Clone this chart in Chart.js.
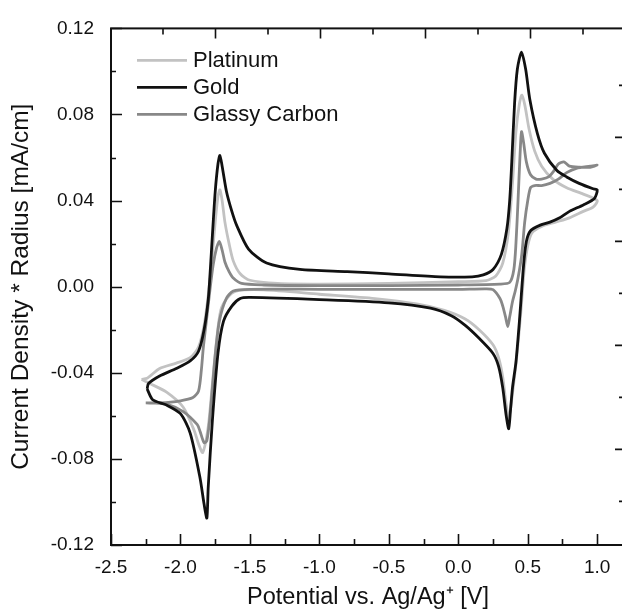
<!DOCTYPE html>
<html>
<head>
<meta charset="utf-8">
<script src="https://cdn.jsdelivr.net/npm/chart.js@4.4.1/dist/chart.umd.min.js"></script>
<style>
  html, body { margin: 0; padding: 0; background: #fff; overflow: hidden; }
</style>
</head>
<body>
<canvas id="cvChart" width="630" height="612"></canvas>
<script>
// potential (V) and current density * radius (mA/cm), one closed sweep per electrode
const platinumV = [-2.28, -2.24, -2.15, -2.03, -1.93, -1.87, -1.83, -1.80, -1.775, -1.75, -1.73, -1.716, -1.70, -1.68, -1.65, -1.62, -1.57, -1.5, -1.3, -1.0, -0.5, 0.0, 0.2, 0.27, 0.32, 0.36, 0.39, 0.415, 0.44, 0.458, 0.48, 0.51, 0.55, 0.6, 0.68, 0.78, 0.9, 1.0,
  0.97, 0.9, 0.8, 0.7, 0.6, 0.53, 0.5, 0.475, 0.45, 0.42, 0.395, 0.375, 0.362, 0.345, 0.32, 0.29, 0.25, 0.15, 0.05, -0.1, -0.3, -0.6, -1.0, -1.4, -1.6, -1.66, -1.71, -1.74, -1.77, -1.80, -1.84, -1.87, -1.9, -1.98, -2.1, -2.22, -2.28];
const platinumI = [-0.043, -0.0425, -0.038, -0.0355, -0.033, -0.028, -0.018, -0.004, 0.012, 0.030, 0.042, 0.045, 0.040, 0.030, 0.020, 0.012, 0.006, 0.003, 0.0015, 0.0012, 0.0015, 0.0023, 0.0028, 0.005, 0.011, 0.025, 0.048, 0.072, 0.085, 0.089, 0.084, 0.073, 0.063, 0.056, 0.050, 0.046, 0.043, 0.040,
  0.037, 0.035, 0.032, 0.030, 0.028, 0.025, 0.019, 0.008, -0.012, -0.033, -0.047, -0.057, -0.061, -0.055, -0.042, -0.033, -0.027, -0.020, -0.015, -0.011, -0.008, -0.0055, -0.0035, -0.0015, -0.002, -0.005, -0.011, -0.025, -0.045, -0.065, -0.077, -0.073, -0.067, -0.056, -0.049, -0.045, -0.043];

const goldV = [-2.24, -2.23, -2.15, -2.03, -1.93, -1.87, -1.83, -1.80, -1.785, -1.77, -1.75, -1.73, -1.716, -1.70, -1.668, -1.63, -1.596, -1.51, -1.38, -1.14, -0.8, -0.5, -0.13, 0.1, 0.18, 0.25, 0.31, 0.35, 0.37, 0.385, 0.405, 0.425, 0.455, 0.485, 0.515, 0.57, 0.62, 0.71, 0.78, 0.87, 0.97, 1.0,
  0.98, 0.9, 0.8, 0.73, 0.66, 0.59, 0.52, 0.49, 0.47, 0.44, 0.415, 0.39, 0.375, 0.363, 0.345, 0.32, 0.29, 0.25, 0.15, 0.05, -0.05, -0.2, -0.5, -1.0, -1.5, -1.57, -1.63, -1.69, -1.73, -1.77, -1.80, -1.81, -1.83, -1.86, -1.93, -2.0, -2.1, -2.2, -2.24];
const goldI = [-0.0475, -0.045, -0.0415, -0.038, -0.0345, -0.030, -0.020, -0.006, 0.008, 0.024, 0.044, 0.057, 0.061, 0.056, 0.044, 0.035, 0.0286, 0.0175, 0.011, 0.008, 0.007, 0.006, 0.0046, 0.0046, 0.0055, 0.008, 0.015, 0.027, 0.040, 0.058, 0.085, 0.101, 0.109, 0.101, 0.087, 0.071, 0.062, 0.054, 0.051, 0.048, 0.0455, 0.045,
  0.041, 0.038, 0.035, 0.032, 0.030, 0.0286, 0.026, 0.021, 0.010, -0.016, -0.035, -0.047, -0.058, -0.066, -0.060, -0.047, -0.037, -0.031, -0.024, -0.018, -0.0135, -0.010, -0.0075, -0.006, -0.005, -0.0055, -0.009, -0.016, -0.031, -0.062, -0.093, -0.1075, -0.101, -0.0885, -0.068, -0.059, -0.055, -0.0525, -0.0475];

const glassyV = [-2.25, -2.15, -2.0, -1.91, -1.87, -1.85, -1.835, -1.81, -1.785, -1.765, -1.74, -1.72, -1.70, -1.68, -1.65, -1.62, -1.56, -1.4, -1.0, -0.5, 0.0, 0.3, 0.37, 0.40, 0.415, 0.43, 0.445, 0.455, 0.47, 0.49, 0.52, 0.56, 0.6, 0.65, 0.69, 0.72, 0.76, 0.8, 0.87, 0.95, 1.0,
  0.95, 0.85, 0.78, 0.72, 0.66, 0.6, 0.55, 0.52, 0.50, 0.478, 0.457, 0.43, 0.41, 0.39, 0.37, 0.356, 0.34, 0.32, 0.30, 0.25, 0.2, 0.0, -0.5, -1.0, -1.5, -1.62, -1.67, -1.72, -1.75, -1.77, -1.79, -1.81, -1.83, -1.86, -1.88, -1.98, -2.1, -2.2, -2.25];
const glassyI = [-0.054, -0.054, -0.053, -0.0515, -0.0485, -0.039, -0.028, -0.014, 0.0, 0.010, 0.018, 0.021, 0.017, 0.0115, 0.007, 0.004, 0.0015, 0.0008, 0.0005, 0.0005, 0.0008, 0.0012, 0.002, 0.008, 0.020, 0.040, 0.062, 0.072, 0.067, 0.058, 0.052, 0.050, 0.050, 0.051, 0.054, 0.057, 0.058, 0.056, 0.0555, 0.0555, 0.0565,
  0.056, 0.055, 0.053, 0.050, 0.048, 0.047, 0.047, 0.046, 0.040, 0.030, 0.015, 0.004, -0.002, -0.007, -0.014, -0.0185, -0.014, -0.009, -0.0055, -0.0014, -0.001, -0.0012, -0.0012, -0.0012, -0.0012, -0.002, -0.0055, -0.016, -0.032, -0.047, -0.062, -0.0715, -0.0725, -0.067, -0.064, -0.058, -0.0545, -0.054, -0.054];

const seriesNames = ['Platinum', 'Gold', 'Glassy Carbon'];
const xTicks = [-2.5, -2.0, -1.5, -1.0, -0.5, 0.0, 0.5, 1.0];
const yTicks = [-0.12, -0.08, -0.04, 0.00, 0.04, 0.08, 0.12];

const colors = ['#c2c2c2', '#111111', '#888888'];
const FONT = "'Liberation Sans', Arial, sans-serif";

function pts(vs, is) {
  return vs.map((v, i) => ({ x: v, y: is[i] }));
}

// frame, inward ticks and legend
const framePlugin = {
  id: 'framePlugin',
  afterDatasetsDraw(chart) {
    const { ctx, chartArea: a, scales } = chart;
    const xs = scales.x, ys = scales.y;
    ctx.save();
    ctx.strokeStyle = '#111';
    ctx.lineWidth = 2;
    ctx.strokeRect(a.left, a.top, a.right - a.left, a.bottom - a.top);
    ctx.lineWidth = 1.6;
    ctx.beginPath();
    for (let v = -2.5; v <= 1.21; v += 0.25) {
      const px = Math.round(xs.getPixelForValue(v)) + 0.5;
      const len = Math.abs(v * 2 - Math.round(v * 2)) < 0.01 ? 11 : 6;
      ctx.moveTo(px, a.bottom); ctx.lineTo(px, a.bottom - len);
    }
    for (let v = -0.12; v <= 0.121; v += 0.02) {
      const py = Math.round(ys.getPixelForValue(v)) + 0.5;
      const k = Math.round(v / 0.02);
      const len = k % 2 === 0 ? 11 : 5;
      ctx.moveTo(a.left, py); ctx.lineTo(a.left + len, py);
    }
    // top / right ticks of the overlay frame
    for (let i = 0; i < 10; i++) {
      const px = a.left + 52 + i * 52.5;
      const len = i % 2 === 1 ? 10 : 6;
      ctx.moveTo(px, a.top); ctx.lineTo(px, a.top + len);
    }
    for (let i = 0; i < 10; i++) {
      const py = a.top + 57 + i * 52;
      if (py > a.bottom - 5) break;
      const len = i % 2 === 1 ? 10 : 6;
      ctx.moveTo(a.right, py); ctx.lineTo(a.right - len, py);
    }
    ctx.stroke();

    // legend
    ctx.font = '22px ' + FONT;
    ctx.textBaseline = 'middle';
    ctx.textAlign = 'left';
    chart.data.datasets.forEach((ds, i) => {
      const y = a.top + 32 + i * 27;
      ctx.strokeStyle = ds.borderColor;
      ctx.lineWidth = 2.8;
      ctx.beginPath();
      ctx.moveTo(a.left + 26, y); ctx.lineTo(a.left + 76, y);
      ctx.stroke();
      ctx.fillStyle = '#111';
      ctx.fillText(ds.label, a.left + 82, y + 1);
    });
    ctx.restore();
  }
};

new Chart(document.getElementById('cvChart').getContext('2d'), {
  type: 'scatter',
  data: {
    datasets: [
      { label: seriesNames[0], data: pts(platinumV, platinumI), borderColor: colors[0], order: 2 },
      { label: seriesNames[1], data: pts(goldV, goldI), borderColor: colors[1], order: 0 },
      { label: seriesNames[2], data: pts(glassyV, glassyI), borderColor: colors[2], order: 1 }
    ].map(d => Object.assign(d, { showLine: true, pointRadius: 0, borderWidth: 2.8, tension: 0.25, fill: false }))
  },
  options: {
    responsive: false,
    animation: false,
    layout: { padding: { top: 25, right: 5, left: 0, bottom: 0 } },
    plugins: { legend: { display: false }, tooltip: { enabled: false } },
    scales: {
      x: {
        type: 'linear', min: -2.5, max: 1.2,
        afterBuildTicks: s => { s.ticks = xTicks.map(v => ({ value: v })); },
        afterFit: s => { s.height = 67; },
        grid: { display: false, drawTicks: false },
        border: { display: false },
        ticks: { padding: 11, color: '#111', font: { family: FONT, size: 19 }, callback: v => v.toFixed(1), maxRotation: 0 },
        title: { display: true, text: 'Potential vs. Ag/Ag⁺ [V]', color: '#111', font: { family: FONT, size: 23.5 }, padding: { top: 0, bottom: 0 } }
      },
      y: {
        type: 'linear', min: -0.12, max: 0.12,
        afterBuildTicks: s => { s.ticks = yTicks.map(v => ({ value: v })); },
        afterFit: s => { s.width = 111; },
        grid: { display: false, drawTicks: false },
        border: { display: false },
        ticks: { padding: 17, color: '#111', font: { family: FONT, size: 19 }, callback: v => v.toFixed(2) },
        title: { display: true, text: 'Current Density * Radius [mA/cm]', color: '#111', font: { family: FONT, size: 24.5 }, padding: { top: 7, bottom: 0 } }
      }
    }
  },
  plugins: [framePlugin]
});
</script>
</body>
</html>
